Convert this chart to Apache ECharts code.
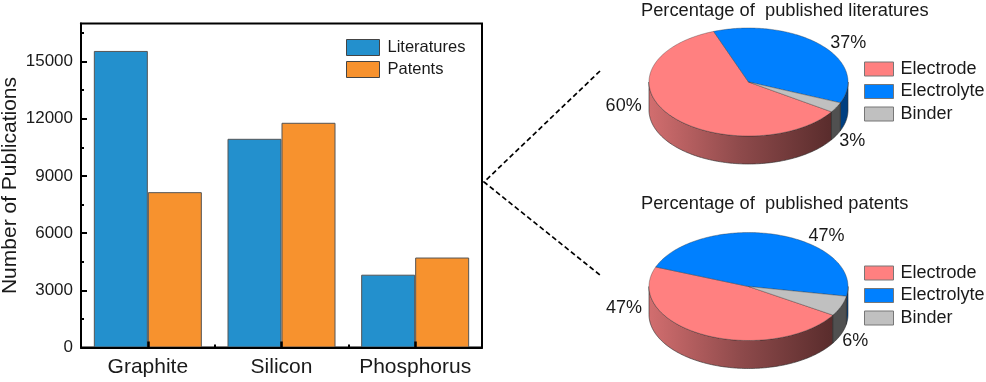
<!DOCTYPE html>
<html>
<head>
<meta charset="utf-8">
<style>html,body{margin:0;padding:0;background:#fff}#c{width:986px;height:382px}</style>
<script src="https://cdn.jsdelivr.net/npm/echarts@6/dist/echarts.min.js"></script>
</head>
<body>
<div id="c"></div>
<script>
const categories = ['Graphite', 'Silicon', 'Phosphorus'];
const literatures = [15560, 10950, 3820];
const patents = [8150, 11790, 4720];
const yTicks = [0, 3000, 6000, 9000, 12000, 15000];
const yMinorTicks = [1500, 4500, 7500, 10500, 13500, 16500];

const pieTitles = ['Percentage of  published literatures', 'Percentage of  published patents'];
const electrodeShares = [60, 47];
const electrolyteShares = [37, 47];
const binderShares = [3, 6];

const FONT = '"Liberation Sans", Arial, sans-serif';
const TEXT = '#1a1a1a';
const PIE = { cx: 748.5, cy: [82, 286.5], rx: 99.5, ry: 54, depth: 28, start: [123.5, 122] };
const rad = d => d * Math.PI / 180;
const px = (a, r) => PIE.cx + r * PIE.rx * Math.sin(rad(a));
const py = (a, cy, r) => cy - r * PIE.ry * Math.cos(rad(a));

function sliceAngles(pie, which) {
  const e = electrodeShares[pie] * 3.6, l = electrolyteShares[pie] * 3.6, b = binderShares[pie] * 3.6;
  const s = PIE.start[pie];
  if (which === 0) return [s, s + e];
  if (which === 1) return [s + e, s + e + l];
  return [s + e + l, s + e + l + b];
}

function arc(a0, a1, cy, dy) {
  const pts = [];
  const n = Math.max(2, Math.ceil(Math.abs(a1 - a0)));
  for (let i = 0; i <= n; i++) {
    const a = a0 + (a1 - a0) * i / n;
    pts.push([px(a, 1), py(a, cy, 1) + (dy || 0)]);
  }
  return pts;
}

const topColors = ['#ff8080', '#0080ff', '#c0c0c0'];
const wallColors = [
  { type: 'linear', x: 0, y: 0, x2: 1, y2: 0, colorStops: [{ offset: 0, color: '#d26e6f' }, { offset: 0.5, color: '#8e4a4b' }, { offset: 1, color: '#592c2c' }] },
  '#003f80',
  '#505050'
];
// label placement relative to the rim at the slice's mid angle
const labelShift = [
  [[-47, -10], [-80, -27]],
  [[28, -2], [51, 1]],
  [[16, 34], [14, 35]]
];

function wallPieces(a0, a1) {
  const out = [];
  for (const k of [0, 360]) {
    const lo = Math.max(a0, 90 + k), hi = Math.min(a1, 270 + k);
    if (hi > lo) out.push([lo, hi]);
  }
  return out;
}

function sliceRenderer(which) {
  return function (params, api) {
    const pie = params.dataIndex;
    const cy = PIE.cy[pie];
    const [a0, a1] = sliceAngles(pie, which);
    const children = [];
    wallPieces(a0, a1).forEach(([lo, hi]) => {
      const upper = arc(lo, hi, cy, 0);
      const lower = arc(hi, lo, cy, PIE.depth);
      children.push({
        type: 'polygon',
        shape: { points: upper.concat(lower) },
        style: { fill: wallColors[which], stroke: '#2a2a2a', lineWidth: 0.6 }
      });
    });
    children.push({
      type: 'polygon',
      shape: { points: [[PIE.cx, cy]].concat(arc(a0, a1, cy, 0)) },
      style: { fill: topColors[which], stroke: '#33333399', lineWidth: 0.6 }
    });
    const mid = (a0 + a1) / 2;
    const sh = labelShift[which][pie];
    children.push({
      type: 'text',
      style: {
        x: px(mid, 1) + sh[0], y: py(mid, cy, 1) + sh[1],
        text: api.value(0) + '%',
        fill: TEXT, font: '18px ' + FONT, align: 'center', verticalAlign: 'middle'
      }
    });
    return { type: 'group', children };
  };
}

function pieLegend(top) {
  return {
    orient: 'vertical', left: 864, top, itemWidth: 29, itemHeight: 14, itemGap: 4.5,
    data: ['Electrode', 'Electrolyte', 'Binder'], icon: 'rect', selectedMode: false,
    itemStyle: { borderColor: '#777', borderWidth: 1 },
    textStyle: { fontFamily: FONT, fontSize: 18, color: TEXT, padding: [0, 0, 0, 2] }, padding: 0
  };
}

const sharedX = { type: 'category', data: categories, position: 'bottom', z: 6 };
const sharedY = { type: 'value', min: 0, max: 17000, position: 'left', z: 6 };

const option = {
  animation: false,
  backgroundColor: '#fff',
  grid: { left: 81, right: 504, top: 23.5, bottom: 34.5, show: true, borderColor: '#000', borderWidth: 2, outerBoundsMode: 'none' },
  title: [
    { text: pieTitles[0], left: 641, top: 2, padding: 0, textStyle: { fontFamily: FONT, fontSize: 18.3, fontWeight: 'normal', color: TEXT } },
    { text: pieTitles[1], left: 641, top: 195, padding: 0, textStyle: { fontFamily: FONT, fontSize: 18.3, fontWeight: 'normal', color: TEXT } }
  ],
  legend: [
    {
      orient: 'vertical', left: 346, top: 39, itemWidth: 33, itemHeight: 16, itemGap: 5,
      data: ['Literatures', 'Patents'], icon: 'rect', selectedMode: false, padding: 0,
      itemStyle: { borderColor: '#444', borderWidth: 1 },
      textStyle: { fontFamily: FONT, fontSize: 16.5, color: TEXT, padding: [0, 0, 0, 3] }
    },
    pieLegend(60),
    pieLegend(264)
  ],
  xAxis: [
    Object.assign({}, sharedX, {
      axisLine: { lineStyle: { color: '#000', width: 2 } },
      axisTick: { show: true, alignWithLabel: true, inside: true, length: 6, lineStyle: { color: '#000', width: 2.5 } },
      axisLabel: { fontFamily: FONT, fontSize: 21, color: TEXT, margin: 9, interval: 0 }
    }),
    Object.assign({}, sharedX, {
      axisLine: { show: false },
      axisTick: { show: true, inside: true, length: 3, lineStyle: { color: '#000', width: 2 } },
      axisLabel: { show: false }
    })
  ],
  yAxis: [
    Object.assign({}, sharedY, {
      name: 'Number of Publications', nameLocation: 'middle', nameGap: 60,
      nameTextStyle: { fontFamily: FONT, fontSize: 21, color: TEXT },
      splitLine: { show: false },
      axisLine: { show: true, lineStyle: { color: '#000', width: 2 } },
      axisTick: { show: true, inside: true, length: 6, customValues: yTicks, lineStyle: { color: '#000', width: 2 } },
      axisLabel: { fontFamily: FONT, fontSize: 17, color: TEXT, margin: 8, customValues: yTicks, formatter: v => String(v) }
    }),
    Object.assign({}, sharedY, {
      splitLine: { show: false },
      axisLine: { show: false },
      axisTick: { show: true, inside: true, length: 3, customValues: yMinorTicks, lineStyle: { color: '#000', width: 2 } },
      axisLabel: { show: false }
    })
  ],
  series: [
    { name: 'Literatures', type: 'bar', data: literatures, barWidth: 54, barGap: 0, itemStyle: { color: '#2390cd', borderColor: '#555', borderWidth: 1 } },
    { name: 'Patents', type: 'bar', data: patents, barWidth: 54, barGap: 0, itemStyle: { color: '#f7922e', borderColor: '#555', borderWidth: 1 } },
    { name: 'Electrode', type: 'custom', coordinateSystem: 'none', data: electrodeShares.map(v => [v]), renderItem: sliceRenderer(0), itemStyle: { color: topColors[0] }, silent: true },
    { name: 'Electrolyte', type: 'custom', coordinateSystem: 'none', data: electrolyteShares.map(v => [v]), renderItem: sliceRenderer(1), itemStyle: { color: topColors[1] }, silent: true },
    { name: 'Binder', type: 'custom', coordinateSystem: 'none', data: binderShares.map(v => [v]), renderItem: sliceRenderer(2), itemStyle: { color: topColors[2] }, silent: true }
  ],
  graphic: [
    { type: 'polyline', silent: true, shape: { points: [[600, 71], [484, 182], [600, 275]] }, style: { stroke: '#000', lineWidth: 1.7, lineDash: [5, 3], fill: null } }
  ]
};
echarts.init(document.getElementById('c')).setOption(option);
</script>
</body>
</html>
